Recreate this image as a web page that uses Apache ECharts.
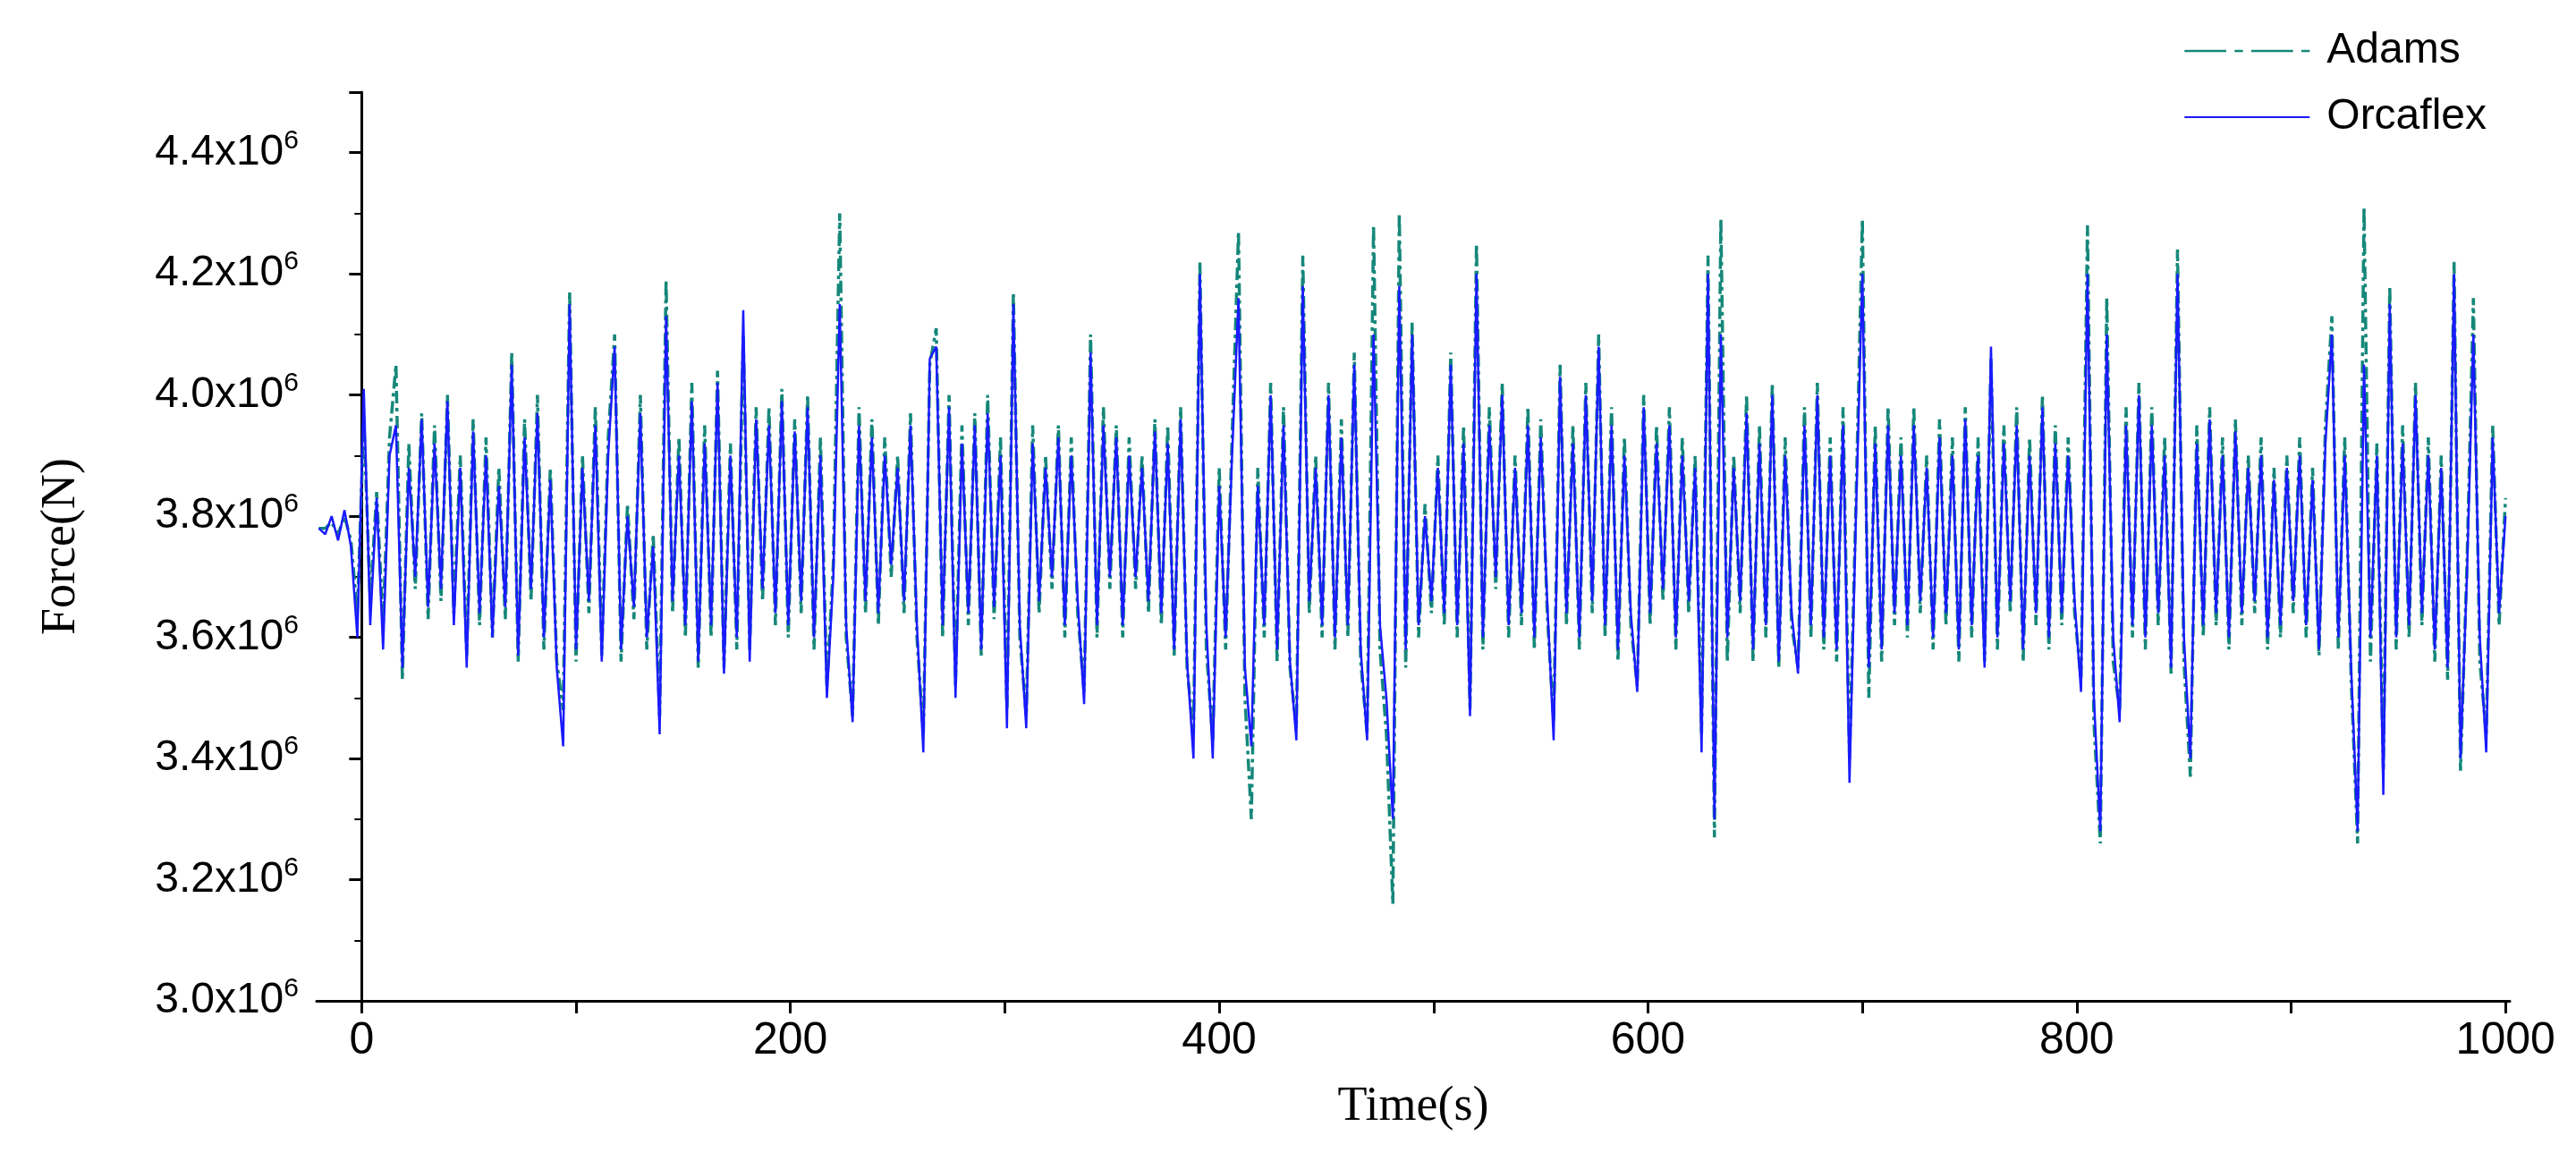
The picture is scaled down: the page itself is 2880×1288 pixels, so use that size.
<!DOCTYPE html>
<html><head><meta charset="utf-8">
<script src="https://cdn.jsdelivr.net/npm/echarts@6/dist/echarts.min.js"></script>
<style>html,body{margin:0;padding:0;background:#fff}#c{width:2880px;height:1288px}</style>
</head><body><div id="c"></div>
<script>
// time grid: start -20 s, step 3 s
const timeStart = -20, timeStep = 3;
// Force values in units of 10^6 N
const orcaflex = [3.78,3.77,3.80,3.76,3.81,3.75,3.60,4.01,3.62,3.83,3.58,3.90,3.95,3.55,3.88,3.70,3.96,3.65,3.92,3.68,
3.99,3.62,3.88,3.55,3.94,3.64,3.90,3.60,3.85,3.65,4.05,3.57,3.93,3.68,3.97,3.60,3.86,3.55,3.42,4.15,
3.58,3.88,3.66,3.95,3.56,3.90,4.08,3.58,3.80,3.65,3.97,3.60,3.75,3.44,4.13,3.66,3.90,3.62,3.99,3.56,
3.92,3.62,4.02,3.54,3.90,3.60,4.14,3.56,3.96,3.68,3.95,3.64,3.99,3.62,3.94,3.66,3.98,3.60,3.90,3.50,
3.70,4.15,3.62,3.46,3.95,3.66,3.93,3.64,3.90,3.72,3.88,3.66,3.95,3.62,3.41,4.06,4.08,3.62,3.98,3.50,
3.92,3.64,3.95,3.58,3.97,3.65,3.90,3.45,4.15,3.62,3.45,3.92,3.66,3.88,3.70,3.93,3.62,3.90,3.66,3.49,
4.07,3.62,3.95,3.70,3.93,3.62,3.90,3.70,3.88,3.66,3.94,3.64,3.92,3.58,3.96,3.56,3.40,4.20,3.62,3.40,
3.85,3.60,3.90,4.16,3.55,3.42,3.85,3.62,4.00,3.58,3.95,3.56,3.43,4.18,3.66,3.88,3.62,4.00,3.60,3.93,
3.62,4.05,3.58,3.43,4.10,3.62,3.50,3.30,4.18,3.58,4.10,3.62,3.80,3.66,3.88,3.64,4.05,3.62,3.92,3.47,
4.20,3.60,3.95,3.70,4.00,3.62,3.88,3.64,3.95,3.60,3.93,3.66,3.43,4.03,3.64,3.92,3.60,4.00,3.66,4.08,
3.62,3.95,3.58,3.90,3.64,3.51,3.98,3.64,3.92,3.68,3.95,3.60,3.90,3.66,3.88,3.41,4.20,3.30,4.10,3.60,
3.88,3.66,3.97,3.58,3.92,3.62,4.00,3.56,3.90,3.64,3.54,3.95,3.62,4.00,3.60,3.90,3.58,3.95,3.36,3.80,
4.20,3.55,3.92,3.58,3.95,3.64,3.90,3.62,3.95,3.66,3.88,3.60,3.93,3.64,3.90,3.58,3.96,3.62,3.90,3.55,
4.08,3.60,3.92,3.66,3.95,3.58,3.90,3.64,3.98,3.60,3.92,3.64,3.90,3.66,3.51,4.20,3.50,3.28,4.10,3.60,
3.46,3.95,3.62,4.00,3.60,3.95,3.64,3.90,3.55,4.20,3.60,3.40,3.92,3.62,3.96,3.64,3.90,3.60,3.94,3.64,
3.88,3.66,3.90,3.60,3.86,3.62,3.88,3.66,3.90,3.62,3.86,3.58,3.92,4.10,3.60,3.90,3.55,3.28,4.05,3.60,
3.90,3.34,4.15,3.60,3.92,3.62,4.00,3.64,3.90,3.58,3.88,3.55,4.20,3.40,3.70,4.10,3.60,3.41,3.93,3.64,3.80];
const adams = [3.78,3.78,3.79,3.77,3.80,3.76,3.64,3.96,3.66,3.84,3.62,3.93,4.05,3.53,3.92,3.68,3.97,3.63,3.95,3.66,
4.00,3.64,3.90,3.57,3.96,3.62,3.93,3.60,3.88,3.63,4.07,3.56,3.96,3.66,4.00,3.58,3.88,3.56,3.48,4.17,
3.56,3.90,3.64,3.98,3.57,3.93,4.10,3.56,3.82,3.63,4.00,3.58,3.77,3.47,4.19,3.64,3.93,3.60,4.02,3.55,
3.95,3.60,4.04,3.55,3.92,3.58,4.10,3.58,3.98,3.66,3.98,3.62,4.01,3.60,3.96,3.64,4.00,3.58,3.93,3.52,
3.72,4.30,3.60,3.47,3.98,3.64,3.96,3.62,3.93,3.70,3.90,3.64,3.97,3.60,3.44,4.05,4.11,3.60,4.00,3.52,
3.95,3.62,3.97,3.57,4.00,3.63,3.93,3.48,4.17,3.60,3.47,3.95,3.64,3.90,3.68,3.95,3.60,3.93,3.64,3.51,
4.10,3.60,3.98,3.68,3.95,3.60,3.93,3.68,3.90,3.64,3.96,3.62,3.95,3.57,3.98,3.55,3.44,4.22,3.58,3.43,
3.88,3.58,3.93,4.27,3.50,3.30,3.88,3.60,4.02,3.56,3.98,3.55,3.45,4.23,3.64,3.90,3.60,4.02,3.58,3.96,
3.60,4.07,3.56,3.44,4.28,3.58,3.44,3.16,4.30,3.55,4.12,3.60,3.82,3.64,3.90,3.62,4.07,3.60,3.95,3.48,
4.25,3.58,3.98,3.68,4.02,3.60,3.90,3.62,3.98,3.58,3.96,3.64,3.46,4.05,3.62,3.95,3.58,4.02,3.64,4.10,
3.60,3.98,3.56,3.93,3.62,3.52,4.00,3.62,3.95,3.66,3.98,3.58,3.93,3.64,3.90,3.44,4.23,3.27,4.29,3.56,
3.90,3.64,4.00,3.56,3.95,3.60,4.02,3.55,3.93,3.62,3.55,3.98,3.60,4.02,3.58,3.93,3.56,3.98,3.40,3.82,
4.29,3.50,3.95,3.56,3.98,3.62,3.93,3.60,3.98,3.64,3.90,3.58,3.96,3.62,3.93,3.56,3.98,3.60,3.93,3.56,
4.06,3.58,3.95,3.64,3.98,3.56,3.93,3.62,4.00,3.58,3.95,3.62,3.93,3.64,3.53,4.28,3.46,3.26,4.16,3.56,
3.48,3.98,3.60,4.02,3.58,3.98,3.62,3.93,3.54,4.24,3.56,3.37,3.95,3.60,3.98,3.62,3.93,3.58,3.96,3.62,
3.90,3.64,3.93,3.58,3.88,3.60,3.90,3.64,3.93,3.60,3.88,3.57,3.95,4.13,3.58,3.93,3.53,3.26,4.31,3.56,
3.92,3.38,4.18,3.58,3.95,3.60,4.02,3.62,3.93,3.56,3.90,3.53,4.22,3.38,3.72,4.16,3.56,3.44,3.95,3.62,3.83];
const xTicks = [0,100,200,300,400,500,600,700,800,900,1000];
const xLabels = [0,200,400,600,800,1000];

const toPairs = arr => arr.map((v,i)=>[timeStart+timeStep*i, v]);
const chart = echarts.init(document.getElementById('c'));
chart.setOption({
  animation:false,
  backgroundColor:'#fff',
  grid:{left:354,right:74,top:103,bottom:169},
  legend:{
    right:95, top:28, orient:'vertical', itemWidth:140, itemHeight:20, itemGap:26,
    textStyle:{fontFamily:'Liberation Sans, Arial', fontSize:48, color:'#000', padding:[0,0,0,14]},
    data:[{name:'Adams',icon:'path://M0,9H40V11H0ZM48,9H56V11H48ZM64,9H104V11H64ZM112,9H120V11H112Z'},{name:'Orcaflex',icon:'path://M0,9H140V11H0Z'}]
  },
  xAxis:{
    type:'value', min:-21, max:1002,
    name:'Time(s)', nameLocation:'middle', nameGap:92,
    nameTextStyle:{fontFamily:'Liberation Serif, Times New Roman', fontSize:54, color:'#000'},
    axisLine:{lineStyle:{color:'#000',width:3}},
    axisTick:{show:true,customValues:xTicks,length:14,lineStyle:{color:'#000',width:3}},
    axisLabel:{customValues:xLabels,formatter:v=>String(v),fontFamily:'Liberation Sans, Arial',fontSize:50,color:'#000',margin:20},
    splitLine:{show:false}
  },
  yAxis:{
    type:'value', min:3.0, max:4.5, interval:0.2,
    name:'Force(N)', nameLocation:'middle', nameGap:258, nameRotate:90,
    nameTextStyle:{fontFamily:'Liberation Serif, Times New Roman', fontSize:54, color:'#000'},
    axisLine:{show:true,lineStyle:{color:'#000',width:3}},
    axisTick:{show:true,length:14,lineStyle:{color:'#000',width:3}},
    minorTick:{show:true,splitNumber:2,length:8,lineStyle:{color:'#000',width:2}},
    axisLabel:{showMaxLabel:false,margin:20,color:'#000',
      formatter:v=>'{a|'+v.toFixed(1)+'x10}{s|6}',
      rich:{a:{fontFamily:'Liberation Sans, Arial',fontSize:48,color:'#000'},
            s:{fontFamily:'Liberation Sans, Arial',fontSize:30,color:'#000',verticalAlign:'bottom',padding:[0,0,26,0]}}},
    splitLine:{show:false}
  },
  series:[
    {name:'Adams',type:'line',data:toPairs(adams),showSymbol:false,symbol:'none',
     lineStyle:{color:'#15877a',width:3.5,type:[14,5,4,5]},itemStyle:{color:'#15877a'},z:2},
    {name:'Orcaflex',type:'line',data:toPairs(orcaflex),showSymbol:false,symbol:'none',
     lineStyle:{color:'#1a1aff',width:2.5},itemStyle:{color:'#1a1aff'},z:3}
  ]
});
</script></body></html>
